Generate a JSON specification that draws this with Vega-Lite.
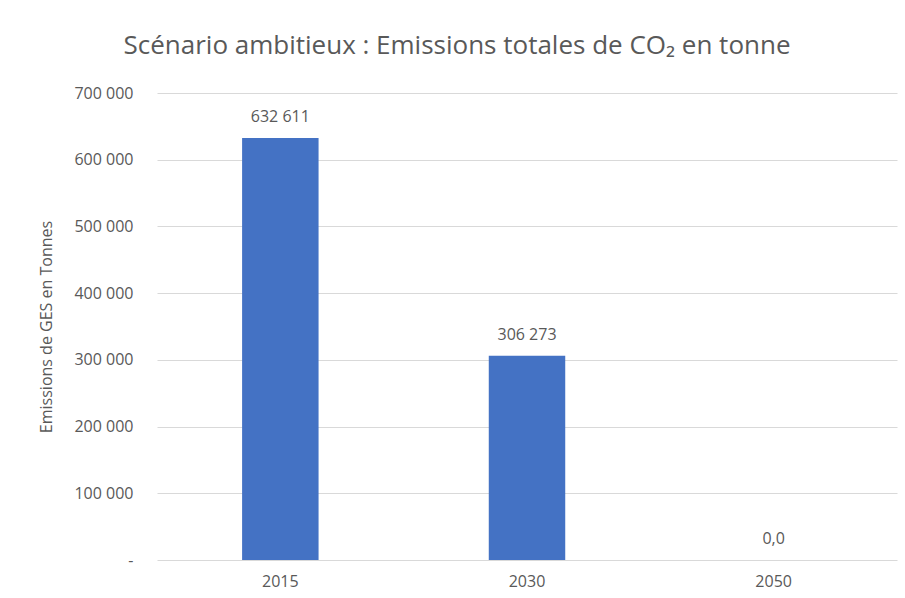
{
  "$schema": "https://vega.github.io/schema/vega-lite/v6.json",
  "autosize": {"type": "none"},
  "width": 740,
  "height": 467,
  "padding": {"left": 157, "top": 93, "right": 8, "bottom": 38},
  "background": "white",
  "title": {
    "text": "Scénario ambitieux : Emissions totales de CO₂ en tonne",
    "anchor": "middle",
    "dx": -70,
    "offset": 26,
    "fontSize": 26,
    "font": "Open Sans",
    "fontWeight": "normal",
    "color": "#595959"
  },
  "data": {
    "values": [
      {"year": "2015", "emissions": 632611},
      {"year": "2030", "emissions": 306273},
      {"year": "2050", "emissions": 0}
    ]
  },
  "encoding": {
    "x": {
      "field": "year",
      "type": "nominal",
      "sort": null,
      "scale": {"paddingInner": 0.69, "paddingOuter": 0.345},
      "axis": {
        "title": null,
        "labelAngle": 0,
        "ticks": false,
        "domain": false,
        "labelPadding": 13,
        "labelFontSize": 16,
        "labelFont": "Open Sans",
        "labelColor": "#595959"
      }
    },
    "y": {
      "field": "emissions",
      "type": "quantitative",
      "scale": {"domain": [0, 700000], "nice": false},
      "axis": {
        "title": "Emissions de GES en Tonnes",
        "titleFontSize": 16,
        "titleFont": "Open Sans",
        "titleFontWeight": "normal",
        "titleColor": "#595959",
        "titlePadding": 19,
        "values": [0, 100000, 200000, 300000, 400000, 500000, 600000, 700000],
        "labelExpr": "datum.value == 0 ? '-\u2007' : replace(format(datum.value, ',d'), ',', ' ')",
        "ticks": false,
        "domain": false,
        "labelPadding": 24,
        "labelFontSize": 16,
        "labelFont": "Open Sans",
        "labelColor": "#595959",
        "gridColor": "#D9D9D9",
        "gridWidth": 1
      }
    }
  },
  "layer": [
    {"mark": {"type": "bar", "color": "#4472C4"}},
    {
      "transform": [
        {"calculate": "datum.emissions == 0 ? '0,0' : replace(format(datum.emissions, ',d'), ',', ' ')", "as": "label"}
      ],
      "mark": {
        "type": "text",
        "dy": -21,
        "baseline": "middle",
        "fontSize": 16,
        "font": "Open Sans",
        "color": "#595959"
      },
      "encoding": {"text": {"field": "label"}}
    }
  ],
  "config": {"view": {"stroke": null}}
}
